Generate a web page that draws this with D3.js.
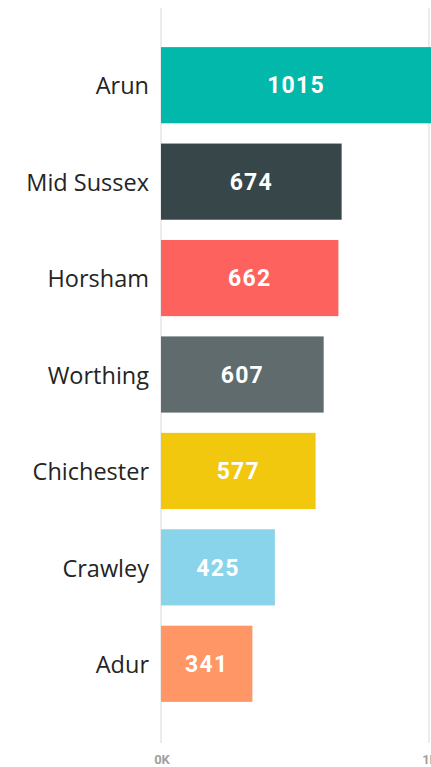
<!DOCTYPE html>
<html>
<head>
<meta charset="utf-8">
<script src="https://cdn.jsdelivr.net/npm/d3@7"></script>
<style>
  html, body { margin: 0; padding: 0; background: #fff; overflow: hidden; }
  svg { display: block; }
</style>
</head>
<body>
<div id="chart"></div>
<script>
var districts = ['Arun', 'Mid Sussex', 'Horsham', 'Worthing', 'Chichester', 'Crawley', 'Adur'];
var counts = [1015, 674, 662, 607, 577, 425, 341];
var barColors = ['#01B8AA', '#374649', '#FD625E', '#5F6B6D', '#F2C80F', '#8AD4EB', '#FE9666'];
var tickValues = [0, 1000];
var tickLabels = ['0K', '1K'];

var width = 431, height = 767;

var svg = d3.select('#chart').append('svg')
  .attr('width', width)
  .attr('height', height);

var x = d3.scaleLinear().domain([0, 1000]).range([161, 429]);
var y = d3.scaleBand().domain(districts).range([37, 712])
  .paddingInner(0.21).paddingOuter(0.105);

// gridlines
svg.append('g').selectAll('line')
  .data(tickValues)
  .enter().append('line')
  .attr('x1', function(d) { return x(d); })
  .attr('x2', function(d) { return x(d); })
  .attr('y1', 8)
  .attr('y2', 743)
  .attr('stroke', '#e6e6e6')
  .attr('stroke-width', 1.5);

// tick labels
svg.append('g').selectAll('text')
  .data(tickValues)
  .enter().append('text')
  .attr('x', function(d) { return x(d) + 1; })
  .attr('y', 764)
  .attr('text-anchor', 'middle')
  .style('font-family', 'Roboto, "DejaVu Sans", sans-serif')
  .style('font-weight', 'bold')
  .style('font-size', '13px')
  .style('fill', '#a0a0a0')
  .text(function(d, i) { return tickLabels[i]; });

var rows = districts.map(function(d, i) {
  return { name: d, value: counts[i], color: barColors[i] };
});

// bars
svg.append('g').selectAll('rect')
  .data(rows)
  .enter().append('rect')
  .attr('x', x(0))
  .attr('y', function(d) { return y(d.name); })
  .attr('width', function(d) { return x(d.value) - x(0); })
  .attr('height', y.bandwidth())
  .attr('fill', function(d) { return d.color; });

// value labels, centred on the visible part of the bar
svg.append('g').selectAll('text')
  .data(rows)
  .enter().append('text')
  .attr('x', function(d) { return (x(0) + Math.min(x(d.value), width)) / 2; })
  .attr('y', function(d) { return y(d.name) + y.bandwidth() / 2; })
  .attr('dy', '0.36em')
  .attr('text-anchor', 'middle')
  .style('font-family', 'Roboto, "DejaVu Sans", sans-serif')
  .style('font-weight', 'bold')
  .style('font-size', '23px')
  .style('letter-spacing', '1.2px')
  .style('fill', '#ffffff')
  .text(function(d) { return d.value; });

// category labels
svg.append('g').selectAll('text')
  .data(rows)
  .enter().append('text')
  .attr('x', 149)
  .attr('y', function(d) { return y(d.name) + y.bandwidth() / 2 + 1; })
  .attr('dy', '0.35em')
  .attr('text-anchor', 'end')
  .style('font-family', '"Segoe UI", "Open Sans", "Noto Sans", sans-serif')
  .style('font-size', '23.5px')
  .style('fill', '#252423')
  .text(function(d) { return d.name; });
</script>
</body>
</html>
